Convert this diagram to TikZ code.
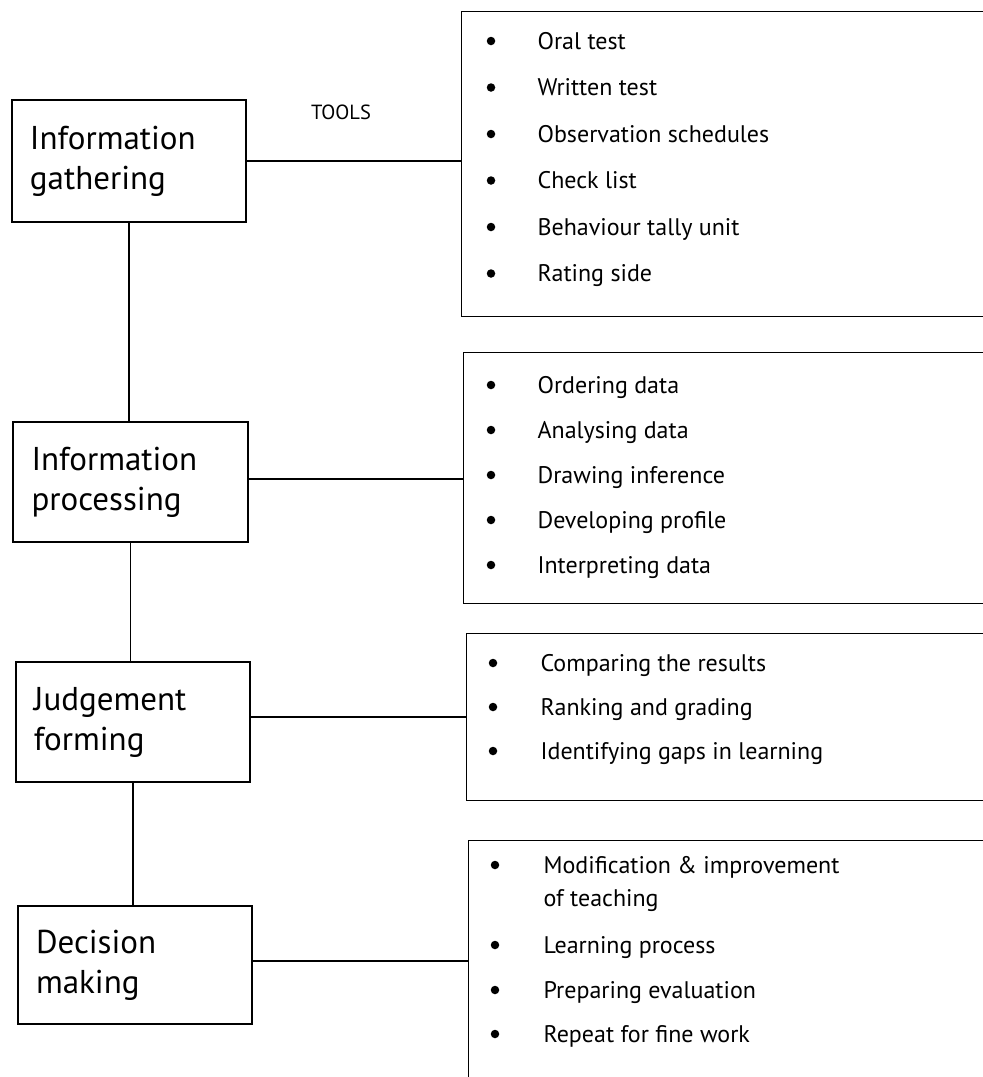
\documentclass[tikz,border=0pt]{standalone}
\usepackage{fontspec}
\setmainfont{PT Sans}
\begin{document}
\begin{tikzpicture}[x=1pt,y=-1pt,
  line width=1.2pt,
  stage/.style={draw, rectangle, inner xsep=18pt, inner ysep=0pt, align=left,
    font=\fontsize{33}{40}\selectfont, text width=#1},
  stage/.default=198pt,
  panel/.style={rectangle, inner sep=0pt},
  bul/.style={circle, fill=black, inner sep=0pt, minimum size=8.5pt},
  itemtext/.style={anchor=base west, inner sep=0pt, font=\fontsize{24}{29}\selectfont},
  lbl/.style={inner sep=0pt, font=\fontsize{20.5}{24}\selectfont}
]
\useasboundingbox (0,0) rectangle (983,1077);

% left stage boxes
\node[stage, minimum width=234pt, minimum height=122pt] (IG) at (129,161) {Information\\gathering};
\node[stage, minimum width=235pt, minimum height=120pt] (IP) at (130.5,482) {Information\\processing};
\node[stage, minimum width=234pt, minimum height=120pt] (JF) at (133,722) {Judgement\\forming};
\node[stage, minimum width=234pt, minimum height=118pt] (DM) at (135,965) {Decision\\making};

% right panels (open on the right)
\node[panel, minimum width=521pt, minimum height=304pt] (R1) at (722.5,164) {};
\node[panel, minimum width=519pt, minimum height=250pt] (R2) at (723.5,478) {};
\node[panel, minimum width=516pt, minimum height=166pt] (R3) at (725,717) {};
\node[panel, minimum width=514pt, minimum height=236pt] (R4) at (726,959) {};

\draw (R1.north east) -- (R1.north west) -- (R1.south west) -- (R1.south east);
\draw (R2.north east) -- (R2.north west) -- (R2.south west) -- (R2.south east);
\draw (R3.north east) -- (R3.north west) -- (R3.south west) -- (R3.south east);
\draw (R4.north east) -- (R4.north west) -- (R4.south west);

% TOOLS label
\node[lbl] (tools) at (341,112) {TOOLS};

% connectors
\draw (IG.east) -- (IG.east -| R1.west);
\draw ([yshift=3pt]IP.east) -- ([yshift=3pt]IP.east -| R2.west);
\draw ([yshift=5pt]JF.east) -- ([yshift=5pt]JF.east -| R3.west);
\draw ([yshift=4pt]DM.east) -- ([yshift=4pt]DM.east -| R4.west);
\draw (IG.south) -- (IG.south |- IP.north);
\draw (IP.south) -- (IP.south |- JF.north);
\draw (JF.south) -- (JF.south |- DM.north);

% panel 1 items
\foreach \t [count=\i] in {Oral test, Written test, Observation schedules, Check list, Behaviour tally unit, Rating side} {
  \node[bul] (a\i) at (491,{41+46.5*(\i-1)}) {};
  \node[itemtext] (at\i) at (537,{49+46.5*(\i-1)}) {\t};
}
% panel 2 items
\foreach \t [count=\i] in {Ordering data, Analysing data, Drawing inference, Developing profile, Interpreting data} {
  \node[bul] (b\i) at (491,{385+45*(\i-1)}) {};
  \node[itemtext] (bt\i) at (537,{393+45*(\i-1)}) {\t};
}
% panel 3 items
\foreach \t [count=\i] in {Comparing the results, Ranking and grading, Identifying gaps in learning} {
  \node[bul] (c\i) at (493,{663+44*(\i-1)}) {};
  \node[itemtext] (ct\i) at (540,{671+44*(\i-1)}) {\t};
}
% panel 4 items
\node[bul] (d1) at (495,865) {};
\node[itemtext] (dt1) at (543,873) {Modification \& improvement};
\node[itemtext] (dt1b) at (543,906) {of teaching};
\node[bul] (d2) at (495,945) {};
\node[itemtext] (dt2) at (543,953) {Learning process};
\node[bul] (d3) at (495,990) {};
\node[itemtext] (dt3) at (543,998) {Preparing evaluation};
\node[bul] (d4) at (495,1034) {};
\node[itemtext] (dt4) at (543,1042) {Repeat for fine work};
\end{tikzpicture}
\end{document}
